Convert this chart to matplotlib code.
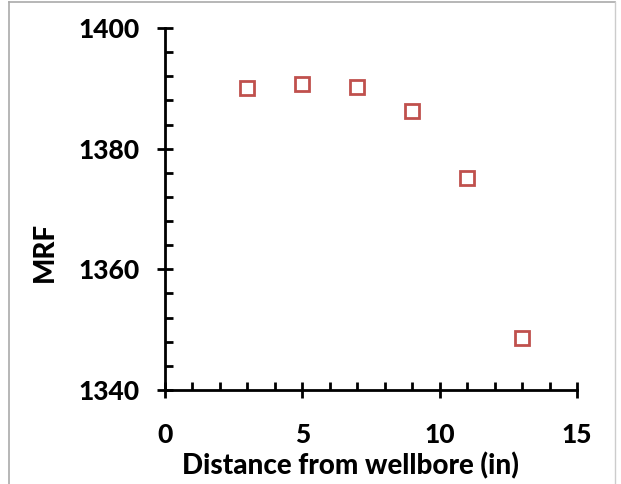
import matplotlib
matplotlib.use("Agg")
import matplotlib.pyplot as plt
from matplotlib.ticker import MultipleLocator
from matplotlib.lines import Line2D

distance = [3, 5, 7, 9, 11, 13]
mrf = [1390.1, 1390.7, 1390.2, 1386.3, 1375.2, 1348.6]
xticks = [0, 5, 10, 15]
yticks = [1340, 1360, 1380, 1400]

plt.rcParams['font.family'] = ['Lato', 'DejaVu Sans']
fig = plt.figure(figsize=(6.21, 4.84), dpi=100)
ax = fig.add_axes([165/621, 1 - 390/484, (577-165)/621, (390-28)/484])

ax.plot(distance, mrf, linestyle='none', marker='s', markersize=10.5,
        markerfacecolor='none', markeredgecolor='#c0504d', markeredgewidth=2)

ax.set_xlim(0, 15)
ax.set_ylim(1340, 1400)
ax.set_xticks(xticks)
ax.set_yticks(yticks)
ax.xaxis.set_minor_locator(MultipleLocator(1))
ax.yaxis.set_minor_locator(MultipleLocator(4))
ax.tick_params(which='major', direction='inout', length=12, width=2, labelsize=19)
ax.tick_params(axis='y', which='major', pad=12)
ax.tick_params(axis='x', which='major', pad=18)
ax.tick_params(which='minor', direction='in', length=6, width=2)
for lab in ax.get_xticklabels() + ax.get_yticklabels():
    lab.set_fontweight('black')
for s in ['top', 'right']:
    ax.spines[s].set_visible(False)
for s in ['left', 'bottom']:
    ax.spines[s].set_linewidth(2)

ax.set_xlabel('Distance from wellbore (in)', fontsize=20, fontweight='black')
ax.xaxis.set_label_coords((350-165)/412, -(466-390)/362)
ax.xaxis.label.set_va('center')
ax.set_ylabel('MRF', fontsize=20, fontweight='black')
ax.yaxis.set_label_coords(-(165-45)/412, (390-252)/362)
ax.yaxis.label.set_va('center')

W, H = 621, 484
xl, xr, yt = 8.5 / W, 614.5 / W, 1 - 1.5 / H
fig.lines.append(Line2D([xl, xl], [0, yt], transform=fig.transFigure, color='#aaaaaa', linewidth=1.2))
fig.lines.append(Line2D([xl, xr], [yt, yt], transform=fig.transFigure, color='#aaaaaa', linewidth=1.2))
fig.lines.append(Line2D([xr, xr], [0, yt], transform=fig.transFigure, color='#cccccc', linewidth=1.0))

fig.savefig('out.png', dpi=100)
